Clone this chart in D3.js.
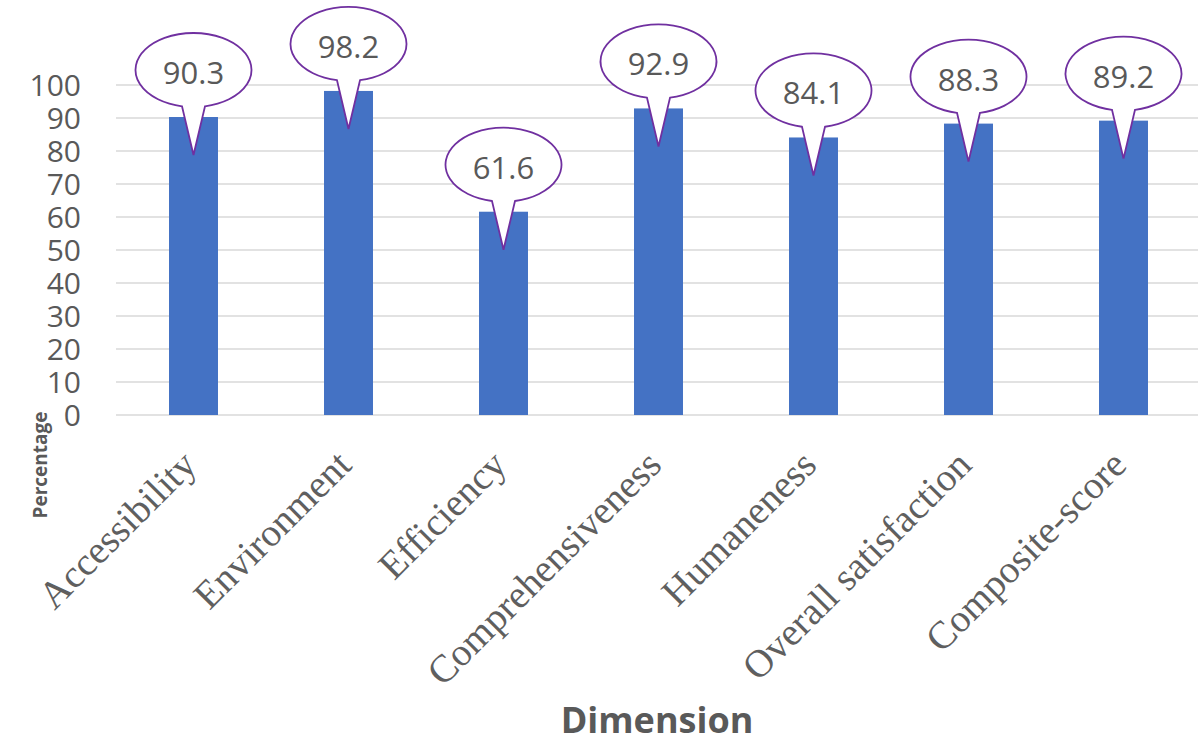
<!DOCTYPE html>
<html>
<head>
<meta charset="utf-8">
<script src="https://cdn.jsdelivr.net/npm/d3@7"></script>
<style>
  html, body { margin: 0; padding: 0; background: #fff; }
  svg { display: block; }
</style>
</head>
<body>
<script>
const width = 1198;
const height = 738;

// data
const dimensions = ["Accessibility", "Environment", "Efficiency", "Comprehensiveness",
  "Humaneness", "Overall satisfaction", "Composite-score"];
const percentages = [90.3, 98.2, 61.6, 92.9, 84.1, 88.3, 89.2];
const yTicks = [0, 10, 20, 30, 40, 50, 60, 70, 80, 90, 100];

const plot = { left: 116, right: 1201, top: 85, bottom: 415 };

const svg = d3.select("body")
  .append("svg")
  .attr("width", width)
  .attr("height", height);

const x = d3.scaleBand()
  .domain(dimensions)
  .range([plot.left, plot.right])
  .paddingInner(0.684)
  .paddingOuter(0.342);

const y = d3.scaleLinear()
  .domain([0, 100])
  .range([plot.bottom, plot.top]);

// gridlines
svg.append("g")
  .selectAll("line")
  .data(yTicks)
  .enter().append("line")
  .attr("x1", plot.left)
  .attr("x2", width)
  .attr("y1", d => y(d))
  .attr("y2", d => y(d))
  .attr("stroke", "#d9d9d9")
  .attr("stroke-width", 1.5);

// y tick labels
svg.append("g")
  .selectAll("text")
  .data(yTicks)
  .enter().append("text")
  .attr("x", 81)
  .attr("y", d => y(d))
  .attr("dy", "0.36em")
  .attr("text-anchor", "end")
  .style("font-family", "'Open Sans', sans-serif")
  .style("font-size", "30px")
  .style("fill", "#595959")
  .text(d => d);

const rows = dimensions.map((d, i) => ({ name: d, value: percentages[i] }));

// bars
svg.append("g")
  .selectAll("rect")
  .data(rows)
  .enter().append("rect")
  .attr("x", d => x(d.name))
  .attr("y", d => y(d.value))
  .attr("width", x.bandwidth())
  .attr("height", d => y(0) - y(d.value))
  .attr("fill", "#4472c4");

// callouts (ellipse with pointer)
const rx = 58, ry = 37, half = 11.5;
function callout(d) {
  const cx = x(d.name) + x.bandwidth() / 2;
  const cy = y(d.value) - 47;
  const tip = y(d.value) + 38;
  const by = cy + ry * Math.sqrt(1 - (half / rx) * (half / rx));
  return "M" + (cx - half) + "," + by +
    "A" + rx + "," + ry + " 0 1 1 " + (cx + half) + "," + by +
    "L" + cx + "," + tip + "Z";
}

const labels = svg.append("g")
  .selectAll("g")
  .data(rows)
  .enter().append("g");

labels.append("path")
  .attr("d", callout)
  .attr("fill", "#fff")
  .attr("stroke", "#7030a0")
  .attr("stroke-width", 1.8);

labels.append("text")
  .attr("x", d => x(d.name) + x.bandwidth() / 2)
  .attr("y", d => y(d.value) - 47 + 14)
  .attr("text-anchor", "middle")
  .style("font-family", "'Open Sans', sans-serif")
  .style("font-size", "31px")
  .style("fill", "#595959")
  .text(d => d.value.toFixed(1));

// x category labels
svg.append("g")
  .selectAll("text")
  .data(dimensions)
  .enter().append("text")
  .attr("transform", d => "translate(" + (x(d) + x.bandwidth() / 2 + 5) + "," + (plot.bottom + 52) + ")rotate(-45)")
  .attr("text-anchor", "end")
  .style("font-family", "'Liberation Serif', 'Times New Roman', serif")
  .style("font-size", "39px")
  .style("fill", "#5f5f5f")
  .text(d => d);

// axis titles
svg.append("text")
  .attr("transform", "translate(47,465)rotate(-90)")
  .attr("text-anchor", "middle")
  .style("font-family", "'Open Sans', sans-serif")
  .style("font-size", "19px")
  .style("font-weight", "bold")
  .style("fill", "#595959")
  .text("Percentage");

svg.append("text")
  .attr("x", 657)
  .attr("y", 733)
  .attr("text-anchor", "middle")
  .style("font-family", "'Open Sans', sans-serif")
  .style("font-size", "36px")
  .style("font-weight", "bold")
  .style("fill", "#595959")
  .text("Dimension");
</script>
</body>
</html>
